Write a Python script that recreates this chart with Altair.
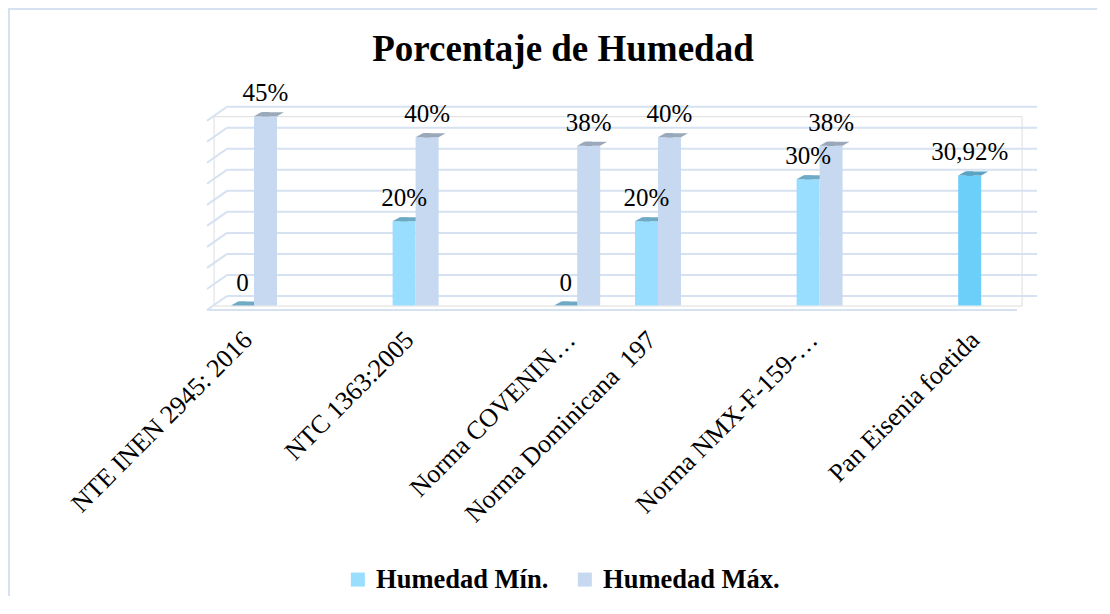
import altair as alt
import pandas as pd

# ---------------- data ----------------
categorias = [
    "NTE INEN 2945: 2016",
    "NTC 1363:2005",
    "Norma COVENIN…",
    "Norma Dominicana \u00a0197",
    "Norma NMX-F-159-…",
    "Pan Eisenia foetida",
]
series = ["Humedad Mín.", "Humedad Máx."]
humedad_min = [0, 20, 0, 20, 30, 30.92]
humedad_max = [45, 40, 38, 40, 38, None]
etiquetas_min = ["0", "20%", "0", "20%", "30%", "30,92%"]
etiquetas_max = ["45%", "40%", "38%", "40%", "38%", None]
lineas_guia = [0, 5, 10, 15, 20, 25, 30, 35, 40, 45]

# empty slots of the category axis (as in the original layout)
huecos = [" ", "  ", "   ", "    "]
dominio_x = [categorias[0], huecos[0], categorias[1], huecos[1], categorias[2],
             categorias[3], huecos[2], categorias[4], huecos[3], categorias[5]]

filas = []
for i, c in enumerate(categorias):
    filas.append({"cat": c, "serie": series[0], "valor": humedad_min[i], "etiqueta": etiquetas_min[i]})
    if humedad_max[i] is not None:
        filas.append({"cat": c, "serie": series[1], "valor": humedad_max[i], "etiqueta": etiquetas_max[i]})
df = pd.DataFrame(filas)
df_grid = pd.DataFrame({"v": lineas_guia})

# ---------------- style ----------------
W, H = 808, 189.3
FONT = "Liberation Serif"
GRID = "#D6E1F1"
MIN_FACE, MIN_SIDE, MIN_TOP = "#99DDFF", "#6FAFCB", "#6FAAC4"
MAX_FACE, MAX_SIDE, MAX_TOP = "#C6D9F0", "#7F8C9A", "#9AA9BA"
PAN_FACE, PAN_SIDE, PAN_TOP = "#6CCFFA", "#4A8CAA", "#5AA3C4"
es_pan = f"datum.cat === '{categorias[-1]}'"

y_enc = alt.Y("valor:Q", scale=alt.Scale(domain=[0, 45], nice=False, zero=True), axis=None)
yg_enc = alt.Y("v:Q", scale=alt.Scale(domain=[0, 45], nice=False, zero=True), axis=None)

x_enc = alt.X(
    "cat:N",
    sort=dominio_x,
    scale=alt.Scale(domain=dominio_x, paddingInner=0, paddingOuter=0),
    axis=alt.Axis(
        title=None, labelAngle=-45, labelAlign="right", labelBaseline="middle",
        labelFont=FONT, labelFontSize=26, labelColor="black", ticks=False,
        domain=False, labelPadding=30, labelOffset=-6, labelLimit=500,
        labelOverlap=False, labelFlush=False, grid=False,
    ),
)
xo_enc = alt.XOffset("serie:N", scale=alt.Scale(domain=series, paddingInner=0, paddingOuter=0.757))

base = alt.Chart(df).encode(x=x_enc, xOffset=xo_enc, y=y_enc)

# background / frame
borde_izq = alt.Chart(df_grid).mark_rule(color=GRID, strokeWidth=1.5).encode(
    x=alt.value(-205), y=alt.value(-107), y2=alt.value(H + 300))
borde_sup = alt.Chart(df_grid).mark_rule(color=GRID, strokeWidth=1.5).encode(
    x=alt.value(-205), x2=alt.value(W + 80), y=alt.value(-107))

pared = alt.Chart(df_grid).mark_rule(color=GRID, strokeWidth=2, yOffset=-9.5).encode(
    y=yg_enc, x=alt.value(13.4), x2=alt.value(W + 15.4))
diagonales = alt.Chart(df_grid).mark_rule(color=GRID, strokeWidth=2, yOffset=4.5, y2Offset=-9.5).encode(
    y=yg_enc, y2="v:Q", x=alt.value(-6.6), x2=alt.value(13.4))
suelo = alt.Chart(df_grid).transform_filter("datum.v === 0").mark_rule(
    color=GRID, strokeWidth=2, yOffset=4.5).encode(
    y=yg_enc, x=alt.value(-6.6), x2=alt.value(W - 4.6))

TOP_SHAPE = "M-11.5,0L11.5,0L18.5,-4L-4.5,-4Z"


def capas(serie, face_field, side_col, top_col):
    b = base.transform_filter(alt.datum.serie == serie)
    lado = b.mark_bar(width=7, xOffset=15, yOffset=-4, y2Offset=-2).encode(
        y2=alt.datum(0),
        color=alt.condition(es_pan, alt.value(PAN_SIDE), alt.value(side_col)))
    frente = b.mark_bar().encode(y2=alt.datum(0), color=face_field)
    tapa = b.mark_point(shape=TOP_SHAPE, size=4, filled=True, opacity=1, strokeWidth=0).encode(
        color=alt.condition(es_pan, alt.value(PAN_TOP), alt.value(top_col)))
    return [lado, frente, tapa]


color_leyenda = alt.Color(
    "serie:N",
    scale=alt.Scale(domain=series, range=[MIN_FACE, MAX_FACE]),
    legend=alt.Legend(
        title=None, orient="none", legendX=131, legendY=450, direction="horizontal",
        symbolType="square", symbolSize=196, symbolStrokeWidth=0, symbolOpacity=1,
        labelFont=FONT, labelFontSize=26.5, labelFontWeight="bold", labelColor="black",
        labelOffset=5, columnPadding=23, padding=0, labelLimit=400,
    ),
)
face_min = alt.condition(es_pan, alt.value(PAN_FACE), color_leyenda)
face_max = color_leyenda

capas_min = capas(series[0], face_min, MIN_SIDE, MIN_TOP)
capas_max = capas(series[1], face_max, MAX_SIDE, MAX_TOP)

etiquetas = base.mark_text(dy=-23, baseline="middle", align="center", font=FONT,
                           fontSize=25, color="black").encode(text="etiqueta:N")

chart = alt.layer(
    borde_izq, borde_sup, pared, diagonales, suelo,
    *capas_min, *capas_max, etiquetas,
).properties(
    width=W, height=H,
    autosize=alt.AutoSizeParams(type="none"),
    padding={"left": 205.6, "top": 108.2, "right": 75, "bottom": 290},
    title=alt.Title(
        text="Porcentaje de Humedad", font=FONT, fontSize=37, fontWeight="bold",
        color="black", anchor="middle", dx=-54.6, dy=89.4, offset=0, baseline="alphabetic",
        frame="group",
    ),
).configure_view(stroke=None).configure(background="white")

chart.save("out.html", embed_options={"renderer": "svg", "actions": False})
